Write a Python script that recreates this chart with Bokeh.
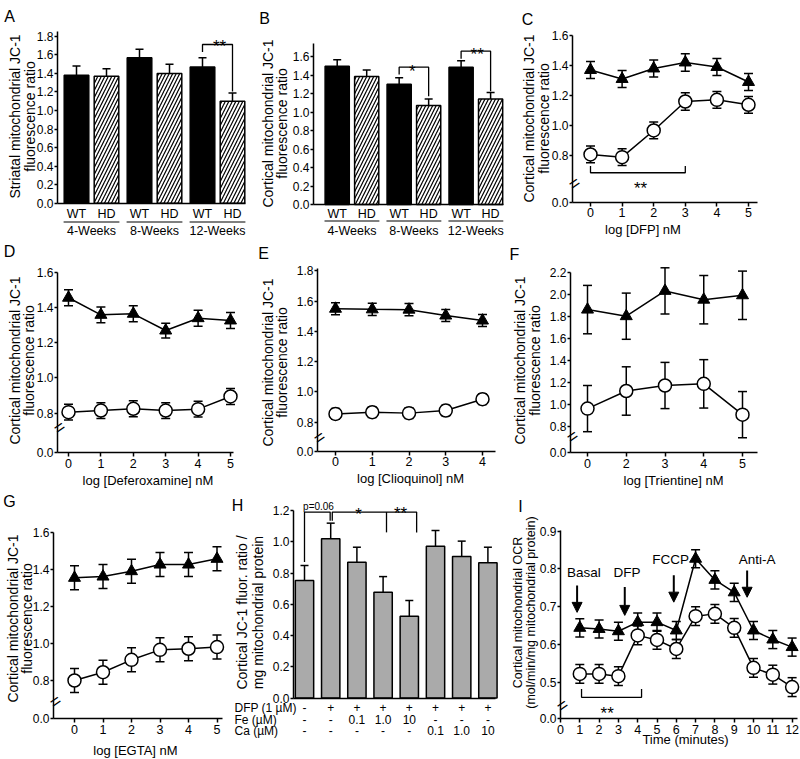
import math
from bokeh.plotting import figure
from bokeh.models import (Range1d, FixedTicker, PrintfTickFormatter, Label, Whisker,
                          TeeHead, ColumnDataSource, Arrow, NormalHead)
from bokeh.layouts import row, column
from bokeh.embed import file_html
from bokeh.resources import INLINE
from bokeh.core.properties import value

FONT = "Liberation Sans"

# ---------------- data ----------------
weeks = ["4-Weeks", "8-Weeks", "12-Weeks"]
genotypes = ["WT", "HD"]

a_wt = [1.38, 1.57, 1.47]
a_wt_err = [0.10, 0.09, 0.10]
a_hd = [1.37, 1.40, 1.10]
a_hd_err = [0.08, 0.10, 0.09]
a_yticks = [0.0, 0.2, 0.4, 0.6, 0.8, 1.0, 1.2, 1.4, 1.6, 1.8]

b_wt = [1.495, 1.30, 1.485]
b_wt_err = [0.07, 0.07, 0.07]
b_hd = [1.385, 1.07, 1.14]
b_hd_err = [0.07, 0.07, 0.07]
b_yticks = [0.0, 0.2, 0.4, 0.6, 0.8, 1.0, 1.2, 1.4, 1.6]

c_x = [0, 1, 2, 3, 4, 5]
c_wt = [1.37, 1.31, 1.38, 1.42, 1.39, 1.29]
c_wt_err = [0.056, 0.056, 0.056, 0.058, 0.056, 0.056]
c_hd = [0.807, 0.789, 0.967, 1.16, 1.171, 1.138]
c_hd_err = [0.056, 0.056, 0.056, 0.058, 0.056, 0.056]
c_yticks = [0.8, 1.0, 1.2, 1.4, 1.6]

d_x = [0, 1, 2, 3, 4, 5]
d_wt = [1.455, 1.358, 1.364, 1.269, 1.339, 1.326]
d_wt_err = [0.045, 0.045, 0.045, 0.042, 0.045, 0.045]
d_hd = [0.806, 0.815, 0.825, 0.815, 0.823, 0.895]
d_hd_err = [0.045, 0.045, 0.045, 0.045, 0.045, 0.045]
d_yticks = [0.8, 1.0, 1.2, 1.4, 1.6]

e_x = [0, 1, 2, 3, 4]
e_wt = [1.55, 1.546, 1.544, 1.505, 1.472]
e_wt_err = [0.04, 0.04, 0.04, 0.04, 0.04]
e_hd = [0.855, 0.866, 0.86, 0.877, 0.952]
e_hd_err = [0.035, 0.035, 0.035, 0.035, 0.035]
e_yticks = [0.8, 1.0, 1.2, 1.4, 1.6, 1.8]

f_labels = ["0", "2", "3", "4", "5"]
f_wt = [1.86, 1.80, 2.03, 1.95, 1.99]
f_wt_err = [0.22, 0.21, 0.21, 0.22, 0.22]
f_hd = [0.96, 1.12, 1.17, 1.185, 0.905]
f_hd_err = [0.21, 0.22, 0.21, 0.22, 0.21]
f_yticks = [0.8, 1.0, 1.2, 1.4, 1.6, 1.8, 2.0, 2.2]

g_x = [0, 1, 2, 3, 4, 5]
g_wt = [1.356, 1.363, 1.392, 1.428, 1.428, 1.459]
g_wt_err = [0.065, 0.065, 0.065, 0.065, 0.065, 0.065]
g_hd = [0.80, 0.845, 0.912, 0.966, 0.972, 0.981]
g_hd_err = [0.065, 0.065, 0.065, 0.065, 0.065, 0.065]
g_yticks = [0.8, 1.0, 1.2, 1.4, 1.6]

h_vals = [0.752, 1.019, 0.869, 0.677, 0.524, 0.972, 0.906, 0.865]
h_err = [0.096, 0.10, 0.096, 0.10, 0.10, 0.10, 0.098, 0.10]
h_dfp = ["-", "+", "+", "+", "+", "+", "+", "+"]
h_fe = ["-", "-", "0.1", "1.0", "10", "-", "-", "-"]
h_ca = ["-", "-", "-", "-", "-", "0.1", "1.0", "10"]
h_rows = ["DFP (1 µM)", "Fe (µM)", "Ca (µM)"]
h_yticks = [0.0, 0.2, 0.4, 0.6, 0.8, 1.0, 1.2]

i_t = [1, 2, 3, 4, 5, 6, 7, 8, 9, 10, 11, 12]
i_wt = [0.644, 0.641, 0.635, 0.659, 0.659, 0.637, 0.827, 0.771, 0.738, 0.637, 0.613, 0.593]
i_wt_err = [0.024, 0.024, 0.024, 0.024, 0.024, 0.024, 0.024, 0.024, 0.024, 0.024, 0.024, 0.024]
i_hd = [0.522, 0.522, 0.516, 0.624, 0.612, 0.588, 0.675, 0.681, 0.644, 0.538, 0.52, 0.487]
i_hd_err = [0.025, 0.025, 0.025, 0.025, 0.025, 0.025, 0.025, 0.025, 0.025, 0.025, 0.025, 0.025]
i_xticks = [0, 1, 2, 3, 4, 5, 6, 7, 8, 9, 10, 11, 12]
i_yticks = [0.5, 0.6, 0.7, 0.8, 0.9]
i_events = ["Basal", "DFP", "FCCP", "Anti-A"]


# ---------------- helpers ----------------
def style(ax, size="12px", tick_out=4, standoff=2):
    ax.axis_line_width = 1.5
    ax.axis_line_color = "black"
    ax.major_tick_line_width = 1.5
    ax.major_tick_line_color = "black"
    ax.major_tick_out = tick_out
    ax.major_tick_in = 0
    ax.minor_tick_line_color = None
    ax.major_label_text_font = FONT
    ax.major_label_text_font_size = size
    ax.major_label_text_color = "black"
    ax.major_label_standoff = standoff


def base(fx0, fy0, fw, fh, fl, fr, ft, fb, xcal, ycal, broken=False):
    """Whole canvas is the frame; axes are pinned with fixed_location."""
    xpx, xv, sx = xcal
    ypx, yv, sy = ycal

    def X(px):
        return xv + (px - xpx) / sx

    def Y(py):
        return yv + (ypx - py) / sy

    p = figure(width=fw, height=fh, title=None,
               x_range=Range1d(X(fx0), X(fx0 + fw)), y_range=Range1d(Y(fy0 + fh), Y(fy0)),
               output_backend="svg", toolbar_location=None, min_border=0)
    p.outline_line_color = None
    p.grid.visible = False
    p.background_fill_color = "white"
    p.border_fill_color = "white"
    xa, ya = p.xaxis[0], p.yaxis[0]
    style(xa, "12.5px", 4, 2)
    style(ya, "12px", 3, 1)
    y0 = round(Y(fb), 4) if broken else 0.0
    xa.fixed_location = y0
    xa.bounds = (X(fl), X(fr))
    ya.fixed_location = X(fl)
    ya.bounds = (y0, Y(ft))
    return p, X, Y, y0


def set_yticks(p, ticks, z=None):
    ax = p.yaxis[0]
    t = list(ticks)
    if z is not None:
        t = [z] + t
        ax.major_label_overrides = {z: "0.0"}
    ax.ticker = FixedTicker(ticks=t)
    ax.formatter = PrintfTickFormatter(format="%.1f")


def no_xticks(p):
    p.xaxis[0].ticker = FixedTicker(ticks=[])
    p.xaxis[0].major_tick_line_color = None


def lab(p, x, y, text, size="13px", angle=0.0, align="center", baseline="middle"):
    p.add_layout(Label(x=x, y=y, text=text, angle=angle, text_align=align,
                       text_baseline=baseline, text_font=FONT, text_font_size=size,
                       text_color="black"))


def ytitle(p, X, Y, x1, x2, yc, l1, l2, size="14px"):
    lab(p, X(x1), Y(yc), l1, size, angle=math.pi / 2)
    lab(p, X(x2), Y(yc), l2, size, angle=math.pi / 2)


def letter(p, X, Y, ax, ay, t):
    lab(p, X(ax), Y(ay), t, "16px")


def brk(p, X, Y, ax, ay):
    lab(p, X(ax), Y(ay), "=", "18px", angle=0.6)


def txt(p, xs, ys, texts, size="12.5px", align="center", baseline="middle"):
    p.text(x=xs, y=ys, text=texts, text_font=value(FONT), text_font_size=size,
           text_align=align, text_baseline=baseline, text_color="black")


def stars(p, X, Y, ax, ay, t, fs=17):
    # ax, ay: visible centre of the asterisks (page px)
    txt(p, [X(ax)], [Y(ay + 0.55 * fs)], [t], size=f"{fs}px", baseline="alphabetic")


def whisk(p, x, y, err, both=True, size=9):
    up = [a + b for a, b in zip(y, err)]
    lo = [a - b for a, b in zip(y, err)] if both else list(y)
    src = ColumnDataSource(dict(x=list(x), up=up, lo=lo))
    w = Whisker(source=src, base="x", upper="up", lower="lo", line_width=1.5,
                line_color="black",
                upper_head=TeeHead(size=size, line_width=1.5, line_color="black"),
                lower_head=TeeHead(size=size, line_width=1.5, line_color="black") if both else None,
                level="underlay")
    p.add_layout(w)


def series(p, x, y, err, kind):
    whisk(p, x, y, err)
    p.line(list(x), list(y), line_width=1.5, line_color="black")
    if kind == "tri":
        p.scatter(list(x), list(y), marker="triangle", size=12, fill_color="black",
                  line_color="black", line_width=1)
    else:
        p.scatter(list(x), list(y), marker="circle", size=13, fill_color="white",
                  line_color="black", line_width=1.5)


def bracket(p, xs, ys, w=1.3):
    p.multi_line(xs=xs, ys=ys, line_width=w, line_color="black")


def bars_wt_hd(p, X, Y, wt, wt_err, hd, hd_err, y_sub, y_line, y_grp):
    x_wt = [g * 2.1 for g in range(len(weeks))]
    x_hd = [g * 2.1 + 1 for g in range(len(weeks))]
    whisk(p, x_wt, wt, wt_err, both=False, size=8)
    whisk(p, x_hd, hd, hd_err, both=False, size=8)
    p.vbar(x=x_wt, top=wt, bottom=0, width=0.82, fill_color="black", line_color="black",
           line_width=1.5)
    p.vbar(x=x_hd, top=hd, bottom=0, width=0.82, fill_color="white", line_color="black",
           line_width=1.5, hatch_pattern="/", hatch_color="black", hatch_scale=7,
           hatch_weight=1.2)
    txt(p, x_wt + x_hd, [Y(y_sub)] * (len(x_wt) + len(x_hd)),
        [genotypes[0]] * len(x_wt) + [genotypes[1]] * len(x_hd))
    centers = [(a + b) / 2 for a, b in zip(x_wt, x_hd)]
    bracket(p, [[c - 0.93, c + 0.93] for c in centers], [[Y(y_line), Y(y_line)] for c in centers], 1.2)
    txt(p, centers, [Y(y_grp)] * len(centers), weeks)
    return x_wt, x_hd


# ================= Row 1 (page y 0..244) =================
# A
pA, XA, YA, zA = base(0, 0, 255, 244, 57, 245, 31, 202.7, (76, 0, 30), (202.7, 0, 92.7))
no_xticks(pA)
set_yticks(pA, a_yticks)
xa_wt, xa_hd = bars_wt_hd(pA, XA, YA, a_wt, a_wt_err, a_hd, a_hd_err, 213, 221.5, 230)
bracket(pA, [[xa_wt[2], xa_wt[2], xa_hd[2], xa_hd[2]]], [[1.63, 1.712, 1.712, 1.205]])
stars(pA, XA, YA, 219, 36.7, "**")
ytitle(pA, XA, YA, 14, 29, 116, "Striatal mitochondrial JC-1", "fluorescence ratio")
letter(pA, XA, YA, 9, 15.5, "A")

# B
pB, XB, YB, zB = base(255, 0, 263, 244, 313, 503, 43.3, 204, (336.7, 0, 29.5), (204, 0, 92.5))
no_xticks(pB)
set_yticks(pB, b_yticks)
xb_wt, xb_hd = bars_wt_hd(pB, XB, YB, b_wt, b_wt_err, b_hd, b_hd_err, 213, 220.5, 230)
bracket(pB, [[xb_wt[1], xb_wt[1], xb_hd[1], xb_hd[1]], [xb_wt[2], xb_wt[2], xb_hd[2], xb_hd[2]]],
        [[1.405, 1.485, 1.485, 1.17], [1.575, 1.658, 1.658, 1.225]])
stars(pB, XB, YB, 411.7, 61.7, "*")
stars(pB, XB, YB, 476.7, 45, "**")
ytitle(pB, XB, YB, 267, 281, 123, "Cortical mitochondrial JC-1", "fluorescence ratio")
letter(pB, XB, YB, 264, 18, "B")

# C
pC, XC, YC, zC = base(518, 0, 282, 244, 572, 757, 35, 202, (590, 0, 31.6), (155, 0.8, 150),
                      broken=True)
set_yticks(pC, c_yticks, zC)
pC.xaxis[0].ticker = FixedTicker(ticks=c_x)
series(pC, c_x, c_wt, c_wt_err, "tri")
series(pC, c_x, c_hd, c_hd_err, "circ")
bracket(pC, [[0, 0, 3, 3]], [[0.73, 0.685, 0.685, 0.73]])
stars(pC, XC, YC, 640, 178.3, "**")
brk(pC, XC, YC, 574, 183)
lab(pC, XC(642.5), YC(229), "log [DFP] nM")
ytitle(pC, XC, YC, 528, 543, 118, "Cortical mitochondrial JC-1", "fluorescence ratio")
letter(pC, XC, YC, 527, 19, "C")

# ================= Row 2 (page y 244..494) =================
# D
pD, XD, YD, zD = base(0, 244, 255, 250, 57, 233, 272, 452, (68, 0, 32.4), (412.7, 0.8, 176.25),
                      broken=True)
set_yticks(pD, d_yticks, zD)
pD.xaxis[0].ticker = FixedTicker(ticks=d_x)
series(pD, d_x, d_wt, d_wt_err, "tri")
series(pD, d_x, d_hd, d_hd_err, "circ")
brk(pD, XD, YD, 59, 427)
lab(pD, XD(147.5), YD(480), "log [Deferoxamine] nM")
ytitle(pD, XD, YD, 14, 28, 360, "Cortical mitochondrial JC-1", "fluorescence ratio")
letter(pD, XD, YD, 9, 251, "D")

# E
pE, XE, YE, zE = base(255, 244, 250, 250, 317, 495, 268, 451, (335, 0, 36.75), (421.7, 0.8, 151.25),
                      broken=True)
set_yticks(pE, e_yticks, zE)
pE.xaxis[0].ticker = FixedTicker(ticks=e_x)
series(pE, e_x, e_wt, e_wt_err, "tri")
series(pE, e_x, e_hd, e_hd_err, "circ")
brk(pE, XE, YE, 319, 437)
lab(pE, XE(410), YE(478), "log [Clioquinol] nM")
ytitle(pE, XE, YE, 267, 281, 362, "Cortical mitochondrial JC-1", "fluorescence ratio")
letter(pE, XE, YE, 263, 253, "E")

# F
f_x = list(range(len(f_labels)))
pF, XF, YF, zF = base(505, 244, 295, 250, 570, 757, 272, 452, (587, 0, 38.75), (425.7, 0.8, 110),
                      broken=True)
set_yticks(pF, f_yticks, zF)
pF.xaxis[0].ticker = FixedTicker(ticks=f_x)
pF.xaxis[0].major_label_overrides = {i: s for i, s in zip(f_x, f_labels)}
series(pF, f_x, f_wt, f_wt_err, "tri")
series(pF, f_x, f_hd, f_hd_err, "circ")
brk(pF, XF, YF, 572, 436)
lab(pF, XF(673), YF(480), "log [Trientine] nM")
ytitle(pF, XF, YF, 519, 534, 360, "Cortical mitochondrial JC-1", "fluorescence ratio")
letter(pF, XF, YF, 514, 254, "F")

# ================= Row 3 (page y 494..759) =================
# G
pG, XG, YG, zG = base(0, 494, 228, 265, 53, 222, 532, 718, (74, 0, 28.5), (680, 0.8, 184.6),
                      broken=True)
set_yticks(pG, g_yticks, zG)
pG.xaxis[0].ticker = FixedTicker(ticks=g_x)
series(pG, g_x, g_wt, g_wt_err, "tri")
series(pG, g_x, g_hd, g_hd_err, "circ")
brk(pG, XG, YG, 55, 701)
lab(pG, XG(135), YG(750), "log [EGTA] nM")
ytitle(pG, XG, YG, 12, 26, 618, "Cortical mitochondrial JC-1", "fluorescence ratio")
letter(pG, XG, YG, 9, 501, "G")

# H
h_x = list(range(len(h_vals)))
pH, XH, YH, zH = base(228, 494, 282, 265, 293, 495, 510, 697.5, (304, 0, 26.2), (697.5, 0, 156.25))
no_xticks(pH)
set_yticks(pH, h_yticks)
whisk(pH, h_x, h_vals, h_err, both=False, size=8)
pH.vbar(x=h_x, top=h_vals, bottom=0, width=0.7, fill_color="#aaaaaa", line_color="black",
        line_width=1.5)
txt(pH, h_x, [YH(707)] * len(h_x), h_dfp, size="12px")
txt(pH, h_x, [YH(719)] * len(h_x), h_fe, size="12px")
txt(pH, h_x, [YH(730)] * len(h_x), h_ca, size="12px")
for t, ay in zip(h_rows, [707, 719, 730]):
    lab(pH, XH(234), YH(ay), t, "12px", align="left")
bracket(pH, [[0, 0, 0.98, 0.98], [1.06, 1.06, 4.28, 4.28], [3.13, 3.13]],
        [[0.87, 1.19, 1.19, 1.135], [1.135, 1.19, 1.19, 1.06], [1.19, 1.06]])
txt(pH, [XH(318)], [YH(506)], ["p=0.06"], size="10px")
stars(pH, XH, YH, 358, 505, "*")
stars(pH, XH, YH, 400, 504, "**")
ytitle(pH, XH, YH, 241, 257, 612, "Cortical JC-1 fluor. ratio /", "mg mitochondrial protein")
letter(pH, XH, YH, 237, 505, "H")

# I
pI, XI, YI, zI = base(510, 494, 290, 265, 560, 797, 530, 718, (560, 0, 19.3), (681.7, 0.5, 377.5),
                      broken=True)
set_yticks(pI, i_yticks, zI)
pI.xaxis[0].ticker = FixedTicker(ticks=i_xticks)
series(pI, i_t, i_wt, i_wt_err, "tri")
series(pI, i_t, i_hd, i_hd_err, "circ")
arrow_x = [0.86, 3.33, 5.87, 9.67]
arrow_y0 = [0.756, 0.752, 0.783, 0.796]
arrow_y1 = [0.685, 0.677, 0.712, 0.725]
for ax_, y0, y1 in zip(arrow_x, arrow_y0, arrow_y1):
    pI.add_layout(Arrow(x_start=ax_, y_start=y0, x_end=ax_, y_end=y1, line_width=2,
                        line_color="black",
                        end=NormalHead(size=10, fill_color="black", line_color="black")))
txt(pI, [1.21, 3.45, 5.7, 10.19], [0.791, 0.791, 0.824, 0.824], i_events, size="13.5px")
bracket(pI, [[1.09, 1.09, 4.2, 4.2]], [[0.482, 0.46, 0.46, 0.482]])
stars(pI, XI, YI, 606.7, 703.3, "**")
brk(pI, XI, YI, 562, 705)
lab(pI, XI(685), YI(739), "Time (minutes)")
ytitle(pI, XI, YI, 517, 530, 612, "Cortical mitochondrial OCR",
       "(mol/min/mg mitochondrial protein)", size="12.5px")
letter(pI, XI, YI, 520, 506, "I")

layout = column(row(pA, pB, pC), row(pD, pE, pF), row(pG, pH, pI))
with open("out.html", "w", encoding="utf-8") as fh:
    fh.write(file_html(layout, INLINE))
